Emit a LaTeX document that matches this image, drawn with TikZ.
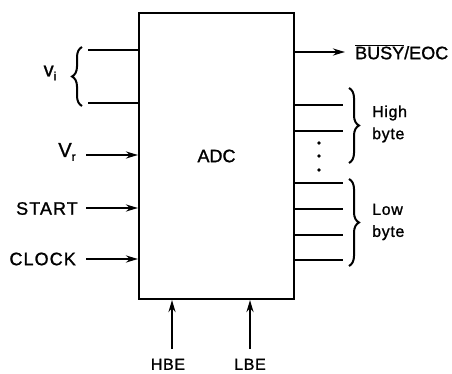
\documentclass[tikz,border=0pt]{standalone}
\usepackage{fontspec}
\setmainfont{Liberation Sans}[FakeBold=1.2]
\usetikzlibrary{arrows.meta,decorations.pathreplacing}
\begin{document}
\begin{tikzpicture}[x=1pt,y=-1pt,
  wire/.style={line width=2pt},
  arr/.style={wire,-{Stealth[length=12pt,width=7pt]}},
  lbl/.style={font=\fontsize{18}{20}\selectfont, inner sep=0pt},
  wlbl/.style={font=\fontsize{18}{20}\selectfont\addfontfeature{LetterSpace=6}, inner sep=0pt},
  slbl/.style={font=\fontsize{16}{22}\selectfont\addfontfeature{LetterSpace=4}, inner sep=0pt, align=left},
  blbl/.style={font=\fontsize{16}{18}\selectfont\addfontfeature{LetterSpace=4}, inner sep=0pt, anchor=south},
  brc/.style={wire, decorate, decoration={brace,amplitude=10pt}},
  dot/.style={circle, fill, inner sep=0pt, minimum size=3.6pt}]
\useasboundingbox (0,0) rectangle (452,374);
\node[draw, wire, minimum width=155pt, minimum height=286pt, lbl] (adc) at (216.5,156) {ADC};
% v_i inputs
\coordinate (vi1) at (88,50);
\coordinate (vi2) at (88,103);
\draw[wire] (vi1) -- (vi1 -| adc.west);
\draw[wire] (vi2) -- (vi2 -| adc.west);
\draw[brc] (82,106) -- (82,47);
\node[font=\fontsize{20}{22}\selectfont, inner sep=0pt] (vil) at (50,73) {v\raisebox{-4pt}{\fontsize{12}{12}\selectfont i}};
% V_r
\coordinate (vr) at (86,155);
\node[font=\fontsize{20}{22}\selectfont, inner sep=0pt] (vrl) at (67,152) {V\raisebox{-4pt}{\fontsize{12}{12}\selectfont r}};
\draw[arr] (vr) -- (vr -| adc.west);
% START, CLOCK
\node[wlbl, anchor=east] (startl) at (78,208.5) {START};
\node[wlbl, anchor=east] (clockl) at (76,259) {CLOCK};
\coordinate (st) at (86,208);
\coordinate (ck) at (86,259);
\draw[arr] (st) -- (st -| adc.west);
\draw[arr] (ck) -- (ck -| adc.west);
% BUSY/EOC
\coordinate (busy) at (345,52);
\draw[arr] (busy -| adc.east) -- (busy);
\node[lbl, anchor=west] (busyl) at (355,52) {$\overline{\mbox{BUSY}}$/EOC};
% high byte
\coordinate (h1) at (343,105);
\coordinate (h2) at (343,131);
\draw[wire] (h1 -| adc.east) -- (h1);
\draw[wire] (h2 -| adc.east) -- (h2);
\node[dot] (d1) at (319,143) {};
\node[dot] (d2) at (319,156) {};
\node[dot] (d3) at (319,170) {};
\draw[brc] (349,88) -- (349,163);
\node[slbl, anchor=west] (highl) at (372,124) {High\\byte};
% low byte
\coordinate (l1) at (343,183);
\coordinate (l2) at (343,209);
\coordinate (l3) at (343,235);
\coordinate (l4) at (343,260);
\foreach \c in {l1,l2,l3,l4} \draw[wire] (\c -| adc.east) -- (\c);
\draw[brc] (349,179) -- (349,266);
\node[slbl, anchor=west] (lowl) at (372,222) {Low\\byte};
% HBE, LBE
\coordinate (hb) at (172,349);
\coordinate (lb) at (250,349);
\draw[arr] (hb) -- (hb |- adc.south);
\draw[arr] (lb) -- (lb |- adc.south);
\node[blbl] (hbel) at (168,370) {HBE};
\node[blbl] (lbel) at (250,370) {LBE};
\end{tikzpicture}
\end{document}
